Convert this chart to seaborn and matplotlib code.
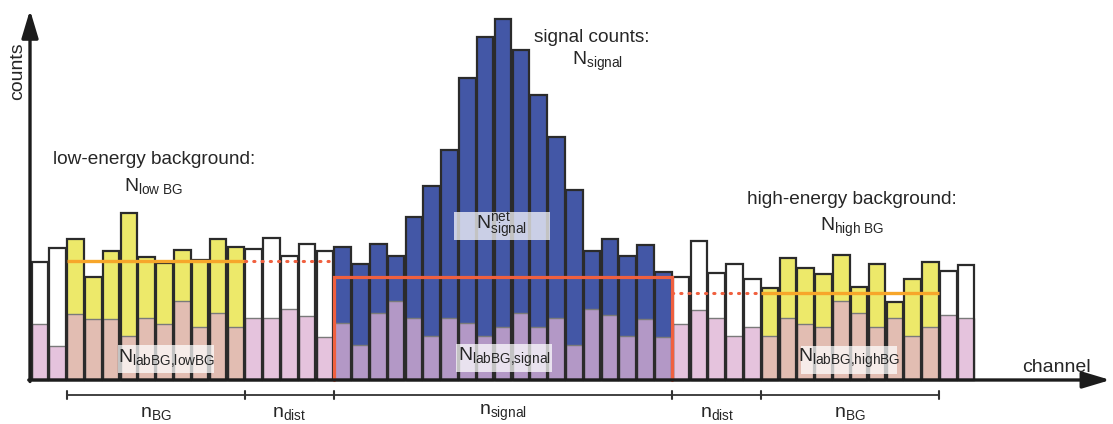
import numpy as np
import pandas as pd
import matplotlib
matplotlib.use("Agg")
import matplotlib.pyplot as plt
from matplotlib.patches import Rectangle
import seaborn as sns

# ---- data -------------------------------------------------------------
# total counts per channel
totals = [118, 132,
          141, 103, 129, 167, 123, 117, 130, 120, 141, 133,
          131, 142, 124, 136, 129,
          133, 116, 136, 124, 163, 194, 230, 302, 343, 361, 330, 285, 243, 190,
          129, 141, 124, 135, 108,
          103, 139, 107, 116, 101,
          92, 122, 112, 106, 125, 93, 116, 78, 101, 118,
          109, 115]
# laboratory background counts per channel
lab_bg = [56, 34,
          66, 61, 61, 44, 62, 56, 79, 53, 67, 53,
          62, 62, 71, 64, 43,
          57, 35, 67, 79, 62, 44, 62, 57, 44, 53, 67, 53, 62, 35, 71, 65, 44, 61, 43,
          56, 70, 62, 44, 53,
          44, 62, 56, 53, 79, 67, 53, 62, 44, 53,
          65, 62]
# channel regions, left to right
region_names = ["outside", "bg", "dist", "signal", "dist", "bg", "outside"]
region_sizes = [2, 10, 5, 19, 5, 10, 2]
# background levels estimated from the two side bands
bg_low_level = 119
bg_high_level = 87

bracket_labels = [r"n$_{\mathregular{BG}}$", r"n$_{\mathregular{dist}}$",
                  r"n$_{\mathregular{signal}}$", r"n$_{\mathregular{dist}}$",
                  r"n$_{\mathregular{BG}}$"]

# ---- styling ----------------------------------------------------------
sns.set_theme(style="white")
plt.rcParams["font.family"] = ["Liberation Sans", "DejaVu Sans"]
plt.rcParams["mathtext.fontset"] = "custom"
plt.rcParams["mathtext.rm"] = "Liberation Sans"
plt.rcParams["mathtext.it"] = "Liberation Sans"

TEXT = "#262626"
upper_pal = {"outside": "#ffffff", "bg": "#ede96a", "dist": "#ffffff", "signal": "#4357a6"}
lower_pal = {"outside": "#e5c3dd", "bg": "#e2bdb2", "dist": "#e5c3dd", "signal": "#b398c6"}

region = np.repeat(region_names, region_sizes)
channel = np.arange(len(totals))
df = pd.DataFrame({"channel": channel, "total": totals, "lab_bg": lab_bg, "region": region})

fig = plt.figure(figsize=(11.13, 4.24), dpi=100)
ax = fig.add_axes([0, 0, 1, 1])

BW = 0.93
sns.barplot(data=df, x="channel", y="total", hue="region", palette=upper_pal,
            dodge=False, width=BW, saturation=1, errorbar=None, legend=False,
            linewidth=0, ax=ax, zorder=2)
sns.barplot(data=df, x="channel", y="lab_bg", hue="region", palette=lower_pal,
            dodge=False, width=BW, saturation=1, errorbar=None, legend=False,
            edgecolor="#7a7a7a", linewidth=1.0, ax=ax, zorder=3)
sns.barplot(data=df, x="channel", y="total", color="#2b2b2b", fill=False,
            width=BW, errorbar=None, linewidth=1.6, ax=ax, zorder=4)

# region boundaries in channel coordinates
edges = np.concatenate([[0], np.cumsum(region_sizes)]) - 0.5
lo_bg_a, lo_bg_b = edges[1], edges[2]
sig_a, sig_b = edges[3], edges[4]
hi_bg_a, hi_bg_b = edges[5], edges[6]
signal_bg = (bg_low_level + bg_high_level) / 2

ORANGE = "#f7a62a"
RED = "#f0603f"
ax.plot([lo_bg_a, lo_bg_b], [bg_low_level] * 2, color=ORANGE, lw=2.4, zorder=6,
        solid_capstyle="butt")
ax.plot([lo_bg_b, sig_a], [bg_low_level] * 2, color=RED, lw=2.2, zorder=6,
        linestyle=(0, (0.4, 2.3)), dash_capstyle="round")
ax.plot([hi_bg_a, hi_bg_b], [bg_high_level] * 2, color=ORANGE, lw=2.4, zorder=6,
        solid_capstyle="butt")
ax.plot([sig_b, hi_bg_a], [bg_high_level] * 2, color=RED, lw=2.2, zorder=6,
        linestyle=(0, (0.4, 2.3)), dash_capstyle="round")
ax.plot([sig_a, sig_a, sig_b, sig_b], [0, signal_bg, signal_bg, 0], color=RED,
        lw=2.3, zorder=6, solid_joinstyle="miter")

# axes arrows
x0 = -0.556
ax.annotate("", xy=(x0, 370), xytext=(x0, -1.5),
            arrowprops=dict(arrowstyle="-|>,head_length=1.4,head_width=0.42",
                            color="#1c1c1c", lw=2.4, shrinkA=0, shrinkB=0),
            zorder=8)
ax.annotate("", xy=(60.1, 0), xytext=(x0 - 0.07, 0),
            arrowprops=dict(arrowstyle="-|>,head_length=1.4,head_width=0.42",
                            color="#1c1c1c", lw=2.4, shrinkA=0, shrinkB=0),
            zorder=8)
ax.text(-1.25, 309, "counts", rotation=90, ha="center", va="center",
        fontsize=14, color=TEXT)
ax.text(57.05, 12, "channel", ha="center", va="center", fontsize=14, color=TEXT)

# region brackets below the axis
yb = -15
ax.plot([edges[1], edges[6]], [yb, yb], color="#333333", lw=1.3, zorder=5)
for e in edges[1:7]:
    ax.plot([e, e], [yb - 4, yb + 4], color="#333333", lw=1.5, zorder=5)
for a, b, lab in zip(edges[1:6], edges[2:7], bracket_labels):
    ax.text((a + b) / 2, -33, lab, ha="center", va="center", fontsize=14, color=TEXT)

# annotations
ax.text(6.4, 220, "low-energy background:", ha="center", va="center",
        fontsize=13.7, color=TEXT)
ax.text(6.4, 194, r"N$_{\mathregular{low\ BG}}$", ha="center", va="center",
        fontsize=14, color=TEXT)
ax.text(31.0, 342, "signal counts:", ha="center", va="center",
        fontsize=13.7, color=TEXT)
ax.text(31.3, 319, r"N$_{\mathregular{signal}}$", ha="center", va="center",
        fontsize=14, color=TEXT)
ax.text(45.6, 181, "high-energy background:", ha="center", va="center",
        fontsize=13.7, color=TEXT)
ax.text(45.6, 153, r"N$_{\mathregular{high\ BG}}$", ha="center", va="center",
        fontsize=14, color=TEXT)

# translucent label panels
panels = [
    ((4.39, 7), r"N$_{\mathregular{labBG{,}lowBG}}$", 22),
    ((23.25, 140), r"N$^{\mathregular{net}}_{\mathregular{signal}}$", 155),
    ((23.36, 8), r"N$_{\mathregular{labBG{,}signal}}$", 23),
    ((42.73, 6), r"N$_{\mathregular{labBG{,}highBG}}$", 22),
]
PW, PH = 5.39, 28
for (px, py), lab, ty in panels:
    ax.add_patch(Rectangle((px, py), PW, PH, facecolor="white", edgecolor="none",
                           alpha=0.72, zorder=7))
    ax.text(px + PW / 2, ty, lab, ha="center", va="center", fontsize=14,
            color=TEXT, zorder=8)

ax.set_xlim(-2.241, 60.25)
ax.set_ylim(-44, 380)
ax.set_axis_off()

fig.savefig("out.png", dpi=100)
